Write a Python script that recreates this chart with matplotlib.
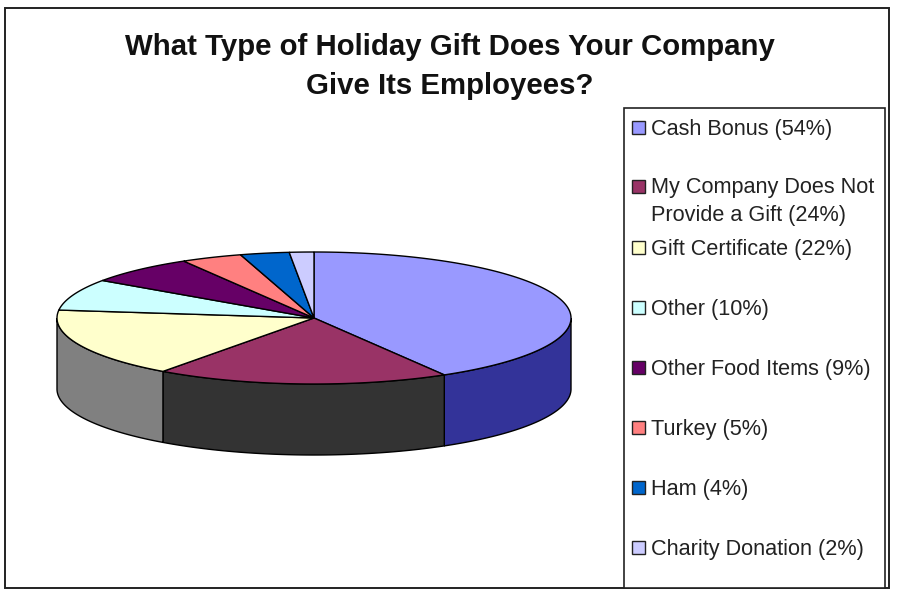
import numpy as np
import matplotlib
matplotlib.use('Agg')
import matplotlib.pyplot as plt

title_lines = ['What Type of Holiday Gift Does Your Company', 'Give Its Employees?']
labels = ['Cash Bonus (54%)', 'My Company Does Not\nProvide a Gift (24%)', 'Gift Certificate (22%)',
          'Other (10%)', 'Other Food Items (9%)', 'Turkey (5%)', 'Ham (4%)', 'Charity Donation (2%)']
values = [54, 24, 22, 10, 9, 5, 4, 2]
colors = ['#9999ff', '#993366', '#ffffcc', '#ccffff', '#660066', '#ff8080', '#0066cc', '#ccccff']
side_colors = ['#333399', '#333333', '#808080']
legend_y = [127, 186, 247, 307, 367, 427, 487, 547]

CX, CY = 314, 318
RX, RY = 257, 66
DEPTH = 71


def ring(a, b):
    t = np.radians(np.linspace(a, b, 200))
    return CX + RX * np.sin(t), CY - RY * np.cos(t)


def main():
    fig = plt.figure(figsize=(9, 5.98), dpi=100)
    ax = fig.add_axes([0, 0, 1, 1])
    ax.set_xlim(0, 900)
    ax.set_ylim(598, 0)
    ax.axis('off')
    plt.rcParams['font.family'] = ['Liberation Sans']

    # outer frame and legend box
    ax.add_patch(plt.Rectangle((5, 8), 884, 580, fc='white', ec='#222222', lw=1.4))
    ax.add_patch(plt.Rectangle((624, 108), 261, 480, fc='white', ec='#222222', lw=1.2))

    ax.text(450, 47, title_lines[0], ha='center', va='center', fontsize=21.2, fontweight='bold', color='#111111')
    ax.text(450, 86, title_lines[1], ha='center', va='center', fontsize=21.2, fontweight='bold', color='#111111')

    edges = np.cumsum([0] + values) / sum(values) * 360

    # side walls, only the front half of the disc shows
    for i in range(3):
        a = max(edges[i], 90)
        b = min(edges[i + 1], 270)
        x, y = ring(a, b)
        ax.fill(np.r_[x, x[::-1]], np.r_[y, y[::-1] + DEPTH], fc=side_colors[i], ec='black', lw=1.0)

    # top of the disc
    for i in range(len(values)):
        x, y = ring(edges[i], edges[i + 1])
        ax.fill(np.r_[CX, x], np.r_[CY, y], fc=colors[i], ec='black', lw=1.0)

    # legend
    for i in range(len(labels)):
        ax.add_patch(plt.Rectangle((632, legend_y[i] - 6), 13, 13, fc=colors[i], ec='#222222', lw=1.0))
        lines = labels[i].split('\n')
        for j in range(len(lines)):
            ax.text(651, legend_y[i] + 2 + j * 27, lines[j], ha='left', va='center', fontsize=15.6, color='#222222')

    fig.savefig('out.png', dpi=100)


if __name__ == '__main__':
    main()
